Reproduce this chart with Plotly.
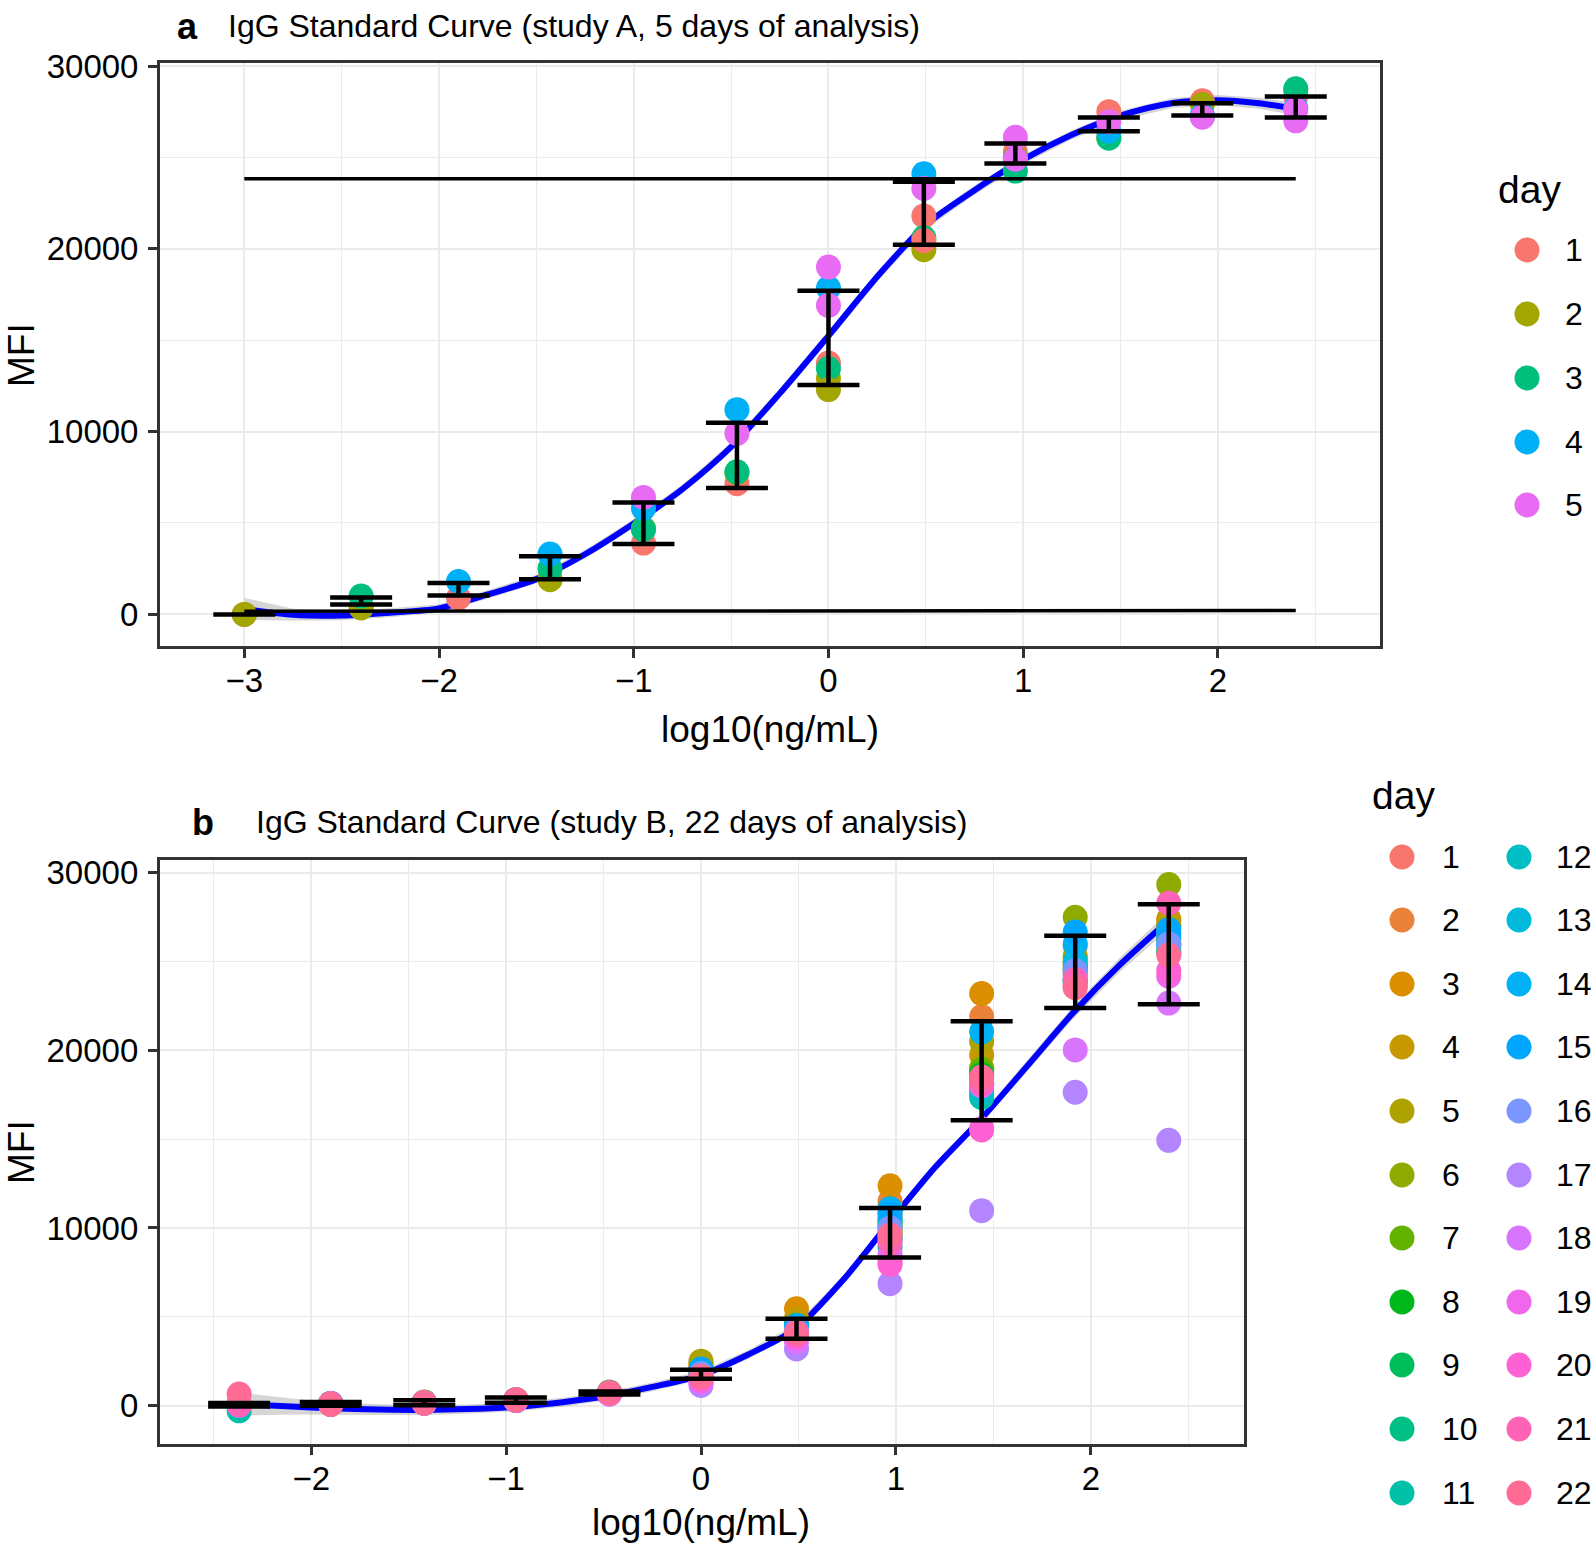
import math
import plotly.graph_objects as go

# ---------------- Panel a: study A, 5 days ----------------
a_x = [-3.00, -2.40, -1.90, -1.43, -0.95, -0.47, 0.00, 0.49, 0.96, 1.44, 1.92, 2.40]
a_day1 = [0, 400, 900, 1950, 3900, 7150, 13750, 21800, 25300, 27500, 28100, 28350]
a_day2 = [0, 350, None, 1900, 4700, 7750, 12900, 19950, 25000, 26100, 27900, 28700]
a_day3 = [None, 1000, None, 2500, 4650, 7800, 13450, 20600, 24250, 26050, 27250, 28750]
a_day4 = [None, None, 1800, 3300, 5800, 11200, 17850, 24100, 24900, 26450, 27300, 27700]
a_day5 = [None, None, None, None, 6400, 9900, 19000, 23300, 26100, 26950, 27200, 27600]
# second replicate wells (only where visible)
a_day1_rep2 = [None, None, None, None, None, None, None, 20450, None, None, None, None]
a_day2_rep2 = [None, None, None, None, None, None, 12300, None, None, None, None, None]
a_day5_rep2 = [None, None, None, None, None, None, 16900, None, 24900, None, None, 27000]

a_err_lo = [0, 545, 1027, 1928, 3857, 6917, 12555, 20226, 24670, 26430, 27290, 27185]
a_err_hi = [0, 920, 1719, 3186, 6120, 10480, 17711, 23664, 25760, 27185, 27961, 28338]

a_fit_x = [-3.0, -2.75, -2.5, -2.25, -2.0, -1.75, -1.5, -1.25, -1.0, -0.75, -0.5, -0.25,
           0.0, 0.26, 0.5, 0.72, 1.0, 1.25, 1.5, 1.77, 2.0, 2.21, 2.4]
a_fit_y = [300, -20, -60, 90, 330, 1090, 1930, 3290, 4970, 6850, 9160, 12090,
           15240, 18590, 21320, 22990, 24880, 26240, 27290, 27980, 28130, 27960, 27650]
a_fit_se = [600, 330, 260, 240, 230, 230, 230, 230, 230, 240, 250, 260,
            270, 270, 260, 250, 250, 250, 260, 270, 280, 300, 340]

a_uloq_x = [-3.0, 2.40]
a_uloq_y = [23830, 23830]
a_lloq_x = [-3.0, 2.40]
a_lloq_y = [170, 210]

a_xticks = [-3, -2, -1, 0, 1, 2]
a_xticktext = ["\u22123", "\u22122", "\u22121", "0", "1", "2"]
a_xminor = [-2.5, -1.5, -0.5, 0.5, 1.5, 2.5]

# ---------------- Panel b: study B, 22 days ----------------
b_x = [-2.37, -1.90, -1.42, -0.95, -0.47, 0.00, 0.49, 0.97, 1.44, 1.92, 2.40]
b_day1 = [50, 90, 120, 280, 680, 1700, 4200, 9500, 18800, 24500, 26500]
b_day2 = [80, 100, 150, 300, 720, 2100, 4700, 11500, 21900, 25900, 27000]
b_day3 = [30, 70, 160, 320, 760, 2300, 5450, 12380, 23200, 25200, 27300]
b_day4 = [60, 110, 180, 340, 700, 2350, 4900, 10800, 19750, 24900, 27400]
b_day5 = [20, 60, 140, 290, 740, 2500, 4600, 10500, 20500, 25300, 27000]
b_day6 = [90, 120, 200, 330, 720, 2000, 4400, 10000, 19000, 27500, 29340]
b_day7 = [40, 80, 130, 300, 690, 1900, 4300, 9800, 18900, 24600, 26300]
b_day8 = [70, 100, 170, 310, 710, 1800, 4500, 10200, 18650, 24700, 26000]
b_day9 = [10, 90, 160, 300, 700, 1750, 4400, 10300, 18300, 24300, 25500]
b_day10 = [60, 110, 150, 290, 690, 1800, 4370, 9500, 17800, 24000, 25600]
b_day11 = [-300, 80, 140, 280, 680, 1775, 4200, 8920, 17350, 23900, 25900]
b_day12 = [30, 90, 150, 290, 700, 1700, 4300, 9300, 17600, 23850, 26000]
b_day13 = [50, 100, 160, 300, 710, 1900, 4400, 10500, 18100, 25000, 26240]
b_day14 = [80, 120, 170, 310, 720, 2000, 4500, 11085, 21050, 26000, 26600]
b_day15 = [20, 110, 160, 300, 700, 2050, 4450, 10800, 18500, 26670, 26800]
b_day16 = [40, 90, 150, 290, 690, 1800, 4200, 10000, 18150, 24500, 26000]
b_day17 = [60, 70, 130, 280, 640, 1126, 3183, 6863, 10977, 17645, 14939]
b_day18 = [10, 80, 140, 290, 660, 1300, 3600, 8500, 18000, 20030, 22667]
b_day19 = [30, 90, 140, 300, 680, 1400, 3800, 8100, 15600, 23600, 24183]
b_day20 = [70, 100, 150, 310, 690, 1500, 3900, 7946, 15523, 23700, 24500]
b_day21 = [50, 110, 160, 320, 700, 1600, 4000, 9200, 18121, 24000, 28296]
b_day22 = [650, 60, 150, 310, 710, 1650, 4100, 9600, 18500, 23533, 25374]

b_err_lo = [-60, -20, 20, 160, 620, 1510, 3767, 8335, 16064, 22386, 22603]
b_err_hi = [140, 200, 300, 450, 790, 2010, 4893, 11128, 21650, 26456, 28231]

b_fit_x = [-2.38, -2.1, -1.9, -1.65, -1.43, -1.2, -0.95, -0.7, -0.47, -0.25, 0.0,
           0.24, 0.48, 0.73, 0.96, 1.2, 1.43, 1.68, 1.91, 2.15, 2.4]
b_fit_y = [84, -60, -160, -230, -250, -200, -70, 200, 560, 1050, 1700,
           2860, 4270, 7080, 10220, 13400, 16050, 19200, 22130, 24830, 27320]
b_fit_se = [650, 450, 350, 300, 280, 260, 250, 250, 250, 250, 250,
            250, 250, 250, 250, 260, 270, 300, 350, 400, 500]

b_xticks = [-2, -1, 0, 1, 2]
b_xticktext = ["\u22122", "\u22121", "0", "1", "2"]
b_xminor = [-2.5, -1.5, -0.5, 0.5, 1.5, 2.5]

y_ticks = [0, 10000, 20000, 30000]
y_ticktext = ["0", "10000", "20000", "30000"]
y_minor = [5000, 15000, 25000]

a_days = ["1", "2", "3", "4", "5"]
b_days = [str(i) for i in range(1, 23)]

# ---------------- styling helpers ----------------
W, H = 1594, 1545
FONT = "Liberation Sans, Arial, Helvetica, sans-serif"


def hcl_hex(h, c=100.0, l=65.0):
    Xn, Yn, Zn = 95.047, 100.0, 108.883
    den = Xn + 15 * Yn + 3 * Zn
    un, vn = 4 * Xn / den, 9 * Yn / den
    hr = math.radians(h)
    u, v = c * math.cos(hr), c * math.sin(hr)
    Y = Yn * ((l + 16) / 116) ** 3 if l > 7.999592 else Yn * l / 903.3
    uu = u / (13 * l) + un
    vv = v / (13 * l) + vn
    X = 9.0 * Y * uu / (4 * vv)
    Z = -X / 3 - 5 * Y + 3 * Y / vv
    X, Y, Z = X / 100, Y / 100, Z / 100
    r = 3.240479 * X - 1.537150 * Y - 0.498535 * Z
    g = -0.969256 * X + 1.875992 * Y + 0.041556 * Z
    b = 0.055648 * X - 0.204043 * Y + 1.057311 * Z

    def gam(t):
        t = 1.055 * t ** (1 / 2.4) - 0.055 if t > 0.00304 else 12.92 * t
        return max(0.0, min(1.0, t))

    return "#%02X%02X%02X" % tuple(int(round(255 * gam(t))) for t in (r, g, b))


def hue_pal(n):
    return [hcl_hex(15 + i * 360.0 / n) for i in range(n)]


a_cols = hue_pal(5)
b_cols = hue_pal(22)

fig = go.Figure()


def add_panel(xs, day_series, err_lo, err_hi, fit_x, fit_y, fit_se, xa, ya):
    up = [y + s for y, s in zip(fit_y, fit_se)]
    lo = [y - s for y, s in zip(fit_y, fit_se)]
    fig.add_trace(go.Scatter(x=fit_x + fit_x[::-1], y=up + lo[::-1], fill="toself",
                             fillcolor="rgba(153,153,153,0.4)", line=dict(width=0),
                             mode="lines", hoverinfo="skip", xaxis=xa, yaxis=ya))
    fig.add_trace(go.Scatter(x=fit_x, y=fit_y, mode="lines",
                             line=dict(color="#0000FF", width=6, shape="spline", smoothing=0.8),
                             xaxis=xa, yaxis=ya))
    for ys, col in day_series:
        fig.add_trace(go.Scatter(x=xs, y=ys, mode="markers",
                                 marker=dict(color=col, size=25, line=dict(width=0)),
                                 xaxis=xa, yaxis=ya))
    mid = [(a + b) / 2 for a, b in zip(err_lo, err_hi)]
    fig.add_trace(go.Scatter(x=xs, y=mid, mode="markers", marker=dict(size=1, opacity=0),
                             error_y=dict(type="data", symmetric=False,
                                          array=[h - m for h, m in zip(err_hi, mid)],
                                          arrayminus=[m - l for m, l in zip(mid, err_lo)],
                                          color="black", thickness=4.5, width=31),
                             xaxis=xa, yaxis=ya))


a_series = [(a_day1, a_cols[0]), (a_day2, a_cols[1]), (a_day3, a_cols[2]),
            (a_day4, a_cols[3]), (a_day5, a_cols[4]),
            (a_day1_rep2, a_cols[0]), (a_day2_rep2, a_cols[1]), (a_day5_rep2, a_cols[4])]
add_panel(a_x, a_series, a_err_lo, a_err_hi, a_fit_x, a_fit_y, a_fit_se, "x", "y")
for lx, ly in ((a_uloq_x, a_uloq_y), (a_lloq_x, a_lloq_y)):
    fig.add_trace(go.Scatter(x=lx, y=ly, mode="lines", line=dict(color="black", width=3.5),
                             xaxis="x", yaxis="y"))

b_all = [b_day1, b_day2, b_day3, b_day4, b_day5, b_day6, b_day7, b_day8, b_day9, b_day10,
         b_day11, b_day12, b_day13, b_day14, b_day15, b_day16, b_day17, b_day18, b_day19,
         b_day20, b_day21, b_day22]
b_series = list(zip(b_all, b_cols))
add_panel(b_x, b_series, b_err_lo, b_err_hi, b_fit_x, b_fit_y, b_fit_se, "x2", "y2")


# ---------------- axes ----------------
def px_x(p):
    return p / W


def px_y(p):
    return 1 - p / H


axis_common = dict(
    showline=True, mirror=True, linecolor="#333333", linewidth=2.5,
    ticks="outside", ticklen=9, tickwidth=2.5, tickcolor="#333333",
    showgrid=True, gridcolor="#EBEBEB", gridwidth=2.4, zeroline=False,
    tickfont=dict(family=FONT, size=33, color="black"), tickmode="array",
    automargin=False,
)
minor_common = dict(showgrid=True, gridcolor="#EBEBEB", gridwidth=1.2, ticks="", tickmode="array")

fig.update_layout(
    xaxis=dict(domain=[px_x(159.8), px_x(1379.5)], range=[-3.434, 2.83], anchor="y",
               tickvals=a_xticks, ticktext=a_xticktext, ticklabelstandoff=-5,
               minor=dict(tickvals=a_xminor, **minor_common), **axis_common),
    yaxis=dict(domain=[px_y(646), px_y(63)], range=[-1729, 30164], anchor="x",
               tickvals=y_ticks, ticktext=y_ticktext, ticklabelstandoff=3,
               minor=dict(tickvals=y_minor, **minor_common), **axis_common),
    xaxis2=dict(domain=[px_x(159.6), px_x(1243.6)], range=[-2.778, 2.784], anchor="y2",
                tickvals=b_xticks, ticktext=b_xticktext, ticklabelstandoff=-5,
                minor=dict(tickvals=b_xminor, **minor_common), **axis_common),
    yaxis2=dict(domain=[px_y(1443.6), px_y(859.9)], range=[-2145, 30732], anchor="x2",
                tickvals=y_ticks, ticktext=y_ticktext, ticklabelstandoff=3,
                minor=dict(tickvals=y_minor, **minor_common), **axis_common),
)

# ---------------- text ----------------
ann = []


def text(x, y, s, size, xanchor="center", yanchor="middle", angle=0, bold=False):
    ann.append(dict(x=px_x(x), y=px_y(y), xref="paper", yref="paper",
                    text=("<b>%s</b>" % s) if bold else s,
                    showarrow=False, xanchor=xanchor, yanchor=yanchor, textangle=angle,
                    font=dict(family=FONT, size=size, color="black")))


text(187, 26, "a", 36, bold=True)
text(226, 26, "IgG Standard Curve (study A, 5 days of analysis)", 32, xanchor="left")
text(203, 822, "b", 36, bold=True)
text(254, 822, "IgG Standard Curve (study B, 22 days of analysis)", 32, xanchor="left")
text(770, 729, "log10(ng/mL)", 37)
text(701, H, "log10(ng/mL)", 37, yanchor="bottom")
text(21, 355, "MFI", 37, angle=-90)
text(21, 1152, "MFI", 37, angle=-90)

# legends (drawn manually to reproduce ggplot's two-column layout)
shapes = []
R = 12.5


def key(cx, cy, col):
    shapes.append(dict(type="circle", xref="paper", yref="paper",
                       x0=px_x(cx - R), x1=px_x(cx + R), y0=px_y(cy + R), y1=px_y(cy - R),
                       fillcolor=col, line=dict(width=0)))


text(1496, 190, "day", 39, xanchor="left")
a_rows = [250, 314, 378, 442, 505]
for i, d in enumerate(a_days):
    key(1527, a_rows[i], a_cols[i])
    text(1563, a_rows[i], d, 32, xanchor="left")

text(1370, 795, "day", 39, xanchor="left")
b_rows = [857, 920, 984, 1047, 1111, 1175, 1238, 1302, 1365, 1429, 1493]
for i, d in enumerate(b_days):
    col = i // 11
    r = b_rows[i % 11]
    key(1402 if col == 0 else 1519, r, b_cols[i])
    text(1440 if col == 0 else 1554, r, d, 32, xanchor="left")

fig.update_layout(
    width=W, height=H, margin=dict(l=0, r=0, t=0, b=0, pad=0, autoexpand=False),
    paper_bgcolor="white", plot_bgcolor="white", showlegend=False,
    annotations=ann, shapes=shapes, font=dict(family=FONT),
)

fig.write_html("out.html", config={"displayModeBar": False},
               post_script="document.body.style.margin='0';document.body.style.overflow='hidden';")
